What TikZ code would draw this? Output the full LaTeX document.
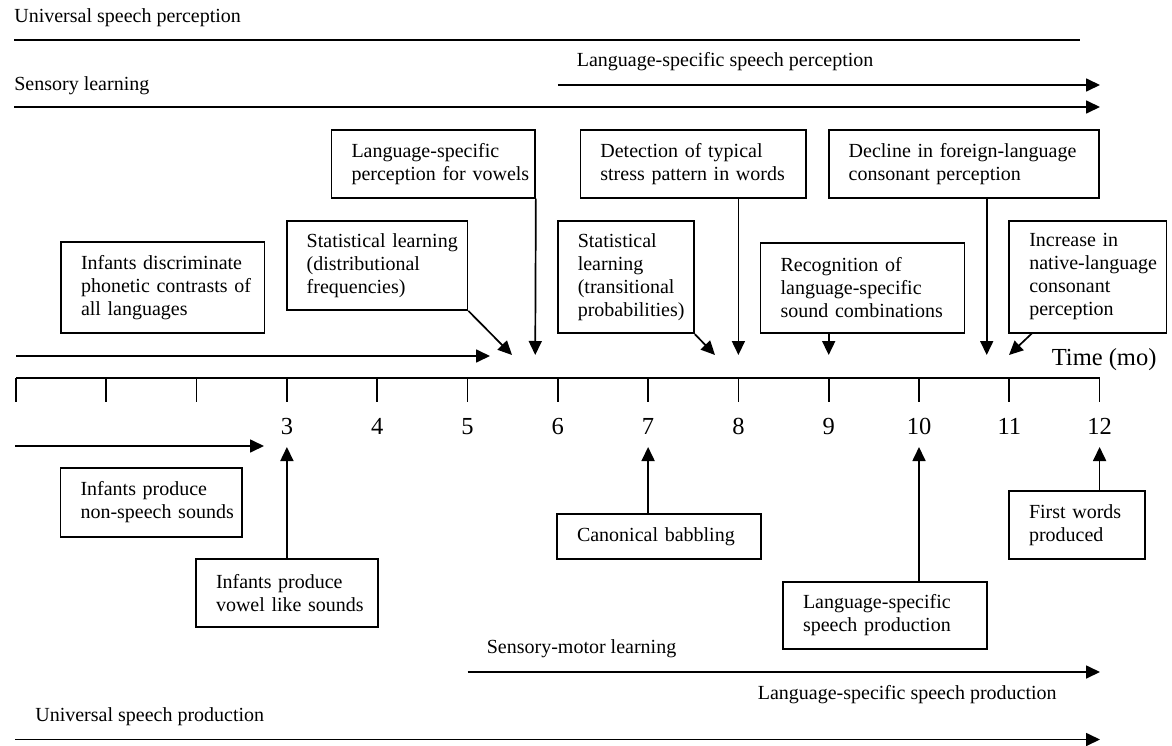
\documentclass[tikz,border=0pt]{standalone}
\usepackage{fontspec}
\setmainfont{Liberation Serif}
\usetikzlibrary{arrows.meta}
% one unbreakable line of text inside a box
\newcommand\boxline[1]{\mbox{#1}}
\begin{document}
\begin{tikzpicture}[x=1pt,y=-1pt,
  line width=1.7pt,
  >={Triangle[length=14pt,width=13pt]},
  body/.style={font=\fontsize{20}{23}\selectfont},
  big/.style={font=\fontsize{24.5}{28}\selectfont},
  event/.style={draw, rectangle, body, align=left, inner xsep=20pt, inner ysep=0pt},
  caption/.style={body, anchor=base west, inner sep=0pt},
]
\useasboundingbox (0,0) rectangle (1172,746);

% ---- month axis ----
\foreach \i in {0,...,12} {
  \coordinate (m\i) at ({16+90.3*\i},378);
  \draw (m\i) -- ++(0,24);
}
\draw (m0) -- (m12);
\foreach \i in {3,...,12} {
  \node[big, anchor=base, inner sep=0pt] (n\i) at ({16+90.3*\i},434) {\i};
}
\node[big, anchor=base west, inner sep=0pt] (timelabel) at (1051,365) {Time (mo)};

% ---- perception phases (top) ----
\node[caption] (uperc) at (13.5,23) {Universal speech perception};
\coordinate (upercA) at (14,40);
\coordinate (upercB) at (1080,40);
\draw (upercA) -- (upercB);

\node[caption] (lsperc) at (576,66.7) {Language-specific speech perception};
\coordinate (lspercA) at (557.8,85);
\coordinate (lspercB) at (1100,85);
\draw[->] (lspercA) -- (lspercB);

\node[caption] (sensory) at (13.5,90.7) {Sensory learning};
\coordinate (sensoryA) at (14,107);
\coordinate (sensoryB) at (1100,107);
\draw[->] (sensoryA) -- (sensoryB);

% ---- perception milestones ----
\node[event, minimum width=203.5pt, minimum height=67.7pt, text width=163.5pt] (vowels) at (433.25,163.85)
  {\boxline{Language-specific}\\\boxline{perception for vowels}};
\node[event, minimum width=225.6pt, minimum height=67.7pt, text width=185.6pt] (stress) at (693.2,163.85)
  {\boxline{Detection of typical}\\\boxline{stress pattern in words}};
\node[event, minimum width=270.3pt, minimum height=67.7pt, text width=230.3pt] (decline) at (963.85,163.85)
  {\boxline{Decline in foreign-language}\\\boxline{consonant perception}};
\node[event, minimum width=180.8pt, minimum height=89.3pt, text width=140.8pt] (statdist) at (377.1,265.35)
  {\boxline{Statistical learning}\\\boxline{(distributional}\\\boxline{frequencies)}};
\node[event, minimum width=203.6pt, minimum height=91pt, text width=163.6pt] (discrim) at (162.8,287.5)
  {\boxline{Infants discriminate}\\\boxline{phonetic contrasts of}\\\boxline{all languages}};
\node[event, minimum width=136.2pt, minimum height=112.6pt, text width=96.2pt] (stattrans) at (625.9,277)
  {\boxline{Statistical}\\\boxline{learning}\\\boxline{(transitional}\\\boxline{probabilities)}};
\node[event, minimum width=203.9pt, minimum height=90.6pt, text width=163.9pt] (recog) at (862.55,288)
  {\boxline{Recognition of}\\\boxline{language-specific}\\\boxline{sound combinations}};
\node[event, minimum width=157.2pt, minimum height=112.6pt, text width=117.2pt] (increase) at (1087.9,277)
  {\boxline{Increase in}\\\boxline{native-language}\\\boxline{consonant}\\\boxline{perception}};

% arrow tips just above the axis
\coordinate (univA) at (16,356);
\coordinate (univB) at (490,356);
\draw[->] (univA) -- (univB);
\coordinate (tVowels) at ({16+90.3*5.75},355);
\coordinate (tStatDist) at (512,355);
\coordinate (tStress) at ({16+90.3*8},355);
\coordinate (tStatTrans) at (715,355);
\coordinate (tRecog) at ({16+90.3*9},355);
\coordinate (tDecline) at ({16+90.3*10.75},355);
\coordinate (tIncrease) at (1009,355);

\draw[->] (vowels.south east) -- (tVowels);
\draw[->] (statdist.south east) -- (tStatDist);
\draw[->] (stress.south -| tStress) -- (tStress);
\draw[->] (stattrans.south east) -- (tStatTrans);
\draw[->] (recog.south -| tRecog) -- (tRecog);
\draw[->] (decline.south -| tDecline) -- (tDecline);
\coordinate (iStart) at (1032,333.3);
\draw[->] (iStart) -- (tIncrease);

% ---- production milestones ----
\coordinate (nsA) at (15,446);
\coordinate (nsB) at (264,446);
\draw[->] (nsA) -- (nsB);

\node[event, minimum width=181.5pt, minimum height=68.7pt, text width=141.5pt] (nonspeech) at (151.25,502.35)
  {\boxline{Infants produce}\\\boxline{non-speech sounds}};
\node[event, minimum width=181.8pt, minimum height=68.3pt, text width=141.8pt] (vowellike) at (286.9,593.15)
  {\boxline{Infants produce}\\\boxline{vowel like sounds}};
\node[event, minimum width=204pt, minimum height=45pt, text width=164pt] (canon) at (659,536.5)
  {\boxline{Canonical babbling}};
\node[event, minimum width=204pt, minimum height=67.6pt, text width=164pt] (lsprod) at (885,615.5)
  {\boxline{Language-specific}\\\boxline{speech production}};
\node[event, minimum width=136pt, minimum height=68.3pt, text width=96pt] (firstw) at (1077,524.85)
  {\boxline{First words}\\\boxline{produced}};

\coordinate (uVowel) at ({16+90.3*3},447);
\coordinate (uCanon) at ({16+90.3*7},447);
\coordinate (uLsProd) at ({16+90.3*10},447);
\coordinate (uFirst) at ({16+90.3*12},447);
\draw[->] (vowellike.north -| uVowel) -- (uVowel);
\draw[->] (canon.north -| uCanon) -- (uCanon);
\draw[->] (lsprod.north -| uLsProd) -- (uLsProd);
\draw[->] (firstw.north -| uFirst) -- (uFirst);

% ---- production phases (bottom) ----
\node[caption] (smotor) at (486,653) {Sensory-motor learning};
\coordinate (smotorA) at (467.5,672);
\coordinate (smotorB) at (1100,672);
\draw[->] (smotorA) -- (smotorB);

\node[caption] (lsprodphase) at (757,699.5) {Language-specific speech production};
\node[caption] (uprod) at (34.5,721.7) {Universal speech production};
\coordinate (uprodA) at (15,739.5);
\coordinate (uprodB) at (1100,739.5);
\draw[->] (uprodA) -- (uprodB);
\end{tikzpicture}
\end{document}
